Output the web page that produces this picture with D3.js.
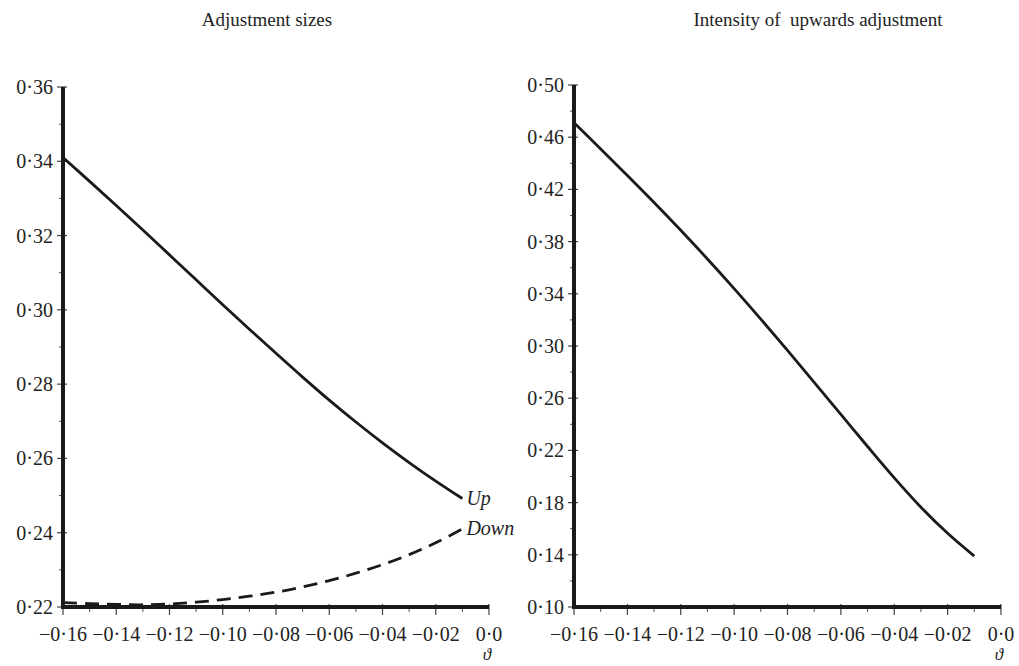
<!DOCTYPE html>
<html>
<head>
<meta charset="utf-8">
<script src="https://cdn.jsdelivr.net/npm/d3@7"></script>
<style>
  html, body { margin: 0; padding: 0; background: #fff; }
  svg { display: block; }
  text { font-family: "Liberation Serif", "DejaVu Serif", serif; fill: #222; }
</style>
</head>
<body>
<svg id="chart" width="1019" height="666"></svg>
<script>
// Theta grid shared by every series
const theta = [-0.16, -0.15, -0.14, -0.13, -0.12, -0.11, -0.10, -0.09,
               -0.08, -0.07, -0.06, -0.05, -0.04, -0.03, -0.02, -0.01];

// Adjustment sizes
const upSize   = [0.3410, 0.3346, 0.3281, 0.3215, 0.3148, 0.3081, 0.3014, 0.2948,
                  0.2883, 0.2819, 0.2757, 0.2698, 0.2642, 0.2589, 0.2539, 0.2492];
const downSize = [0.2212, 0.2209, 0.2207, 0.2206, 0.2208, 0.2213, 0.2220, 0.2229,
                  0.2240, 0.2254, 0.2271, 0.2291, 0.2314, 0.2341, 0.2373, 0.2410];

// Intensity of upwards adjustment
const upIntensity = [0.4710, 0.4510, 0.4307, 0.4100, 0.3887, 0.3667, 0.3440, 0.3206,
                     0.2966, 0.2722, 0.2476, 0.2230, 0.1990, 0.1765, 0.1565, 0.1390];

// Tick values
const xTicks = [-0.16, -0.14, -0.12, -0.10, -0.08, -0.06, -0.04, -0.02, 0.0];
const xMinor = [-0.15, -0.13, -0.11, -0.09, -0.07, -0.05, -0.03, -0.01];
const leftYTicks  = [0.22, 0.24, 0.26, 0.28, 0.30, 0.32, 0.34, 0.36];
const leftYMinor  = [0.23, 0.25, 0.27, 0.29, 0.31, 0.33, 0.35];
const rightYTicks = [0.10, 0.14, 0.18, 0.22, 0.26, 0.30, 0.34, 0.38, 0.42, 0.46, 0.50];
const rightYMinor = [0.12, 0.16, 0.20, 0.24, 0.28, 0.32, 0.36, 0.40, 0.44, 0.48];

const titles = ["Adjustment sizes", "Intensity of\u00a0 upwards adjustment"];

const svg = d3.select("#chart");

// Numbers written with a raised dot as decimal separator
function fmtX(v) {
  if (v === 0) return "0\u00b70";
  const s = Math.abs(v).toFixed(2).replace(".", "\u00b7");
  return (v < 0 ? "\u2212" : "") + s;
}
function fmtY(v) { return v.toFixed(2).replace(".", "\u00b7"); }

function panel(opts) {
  const g = svg.append("g");
  const x = d3.scaleLinear().domain([-0.16, 0.0]).range([opts.x0, opts.x1]);
  const y = d3.scaleLinear().domain(opts.yDomain).range([opts.yBottom, opts.yTop]);

  // title
  g.append("text")
    .attr("x", opts.titleX).attr("y", 26)
    .attr("text-anchor", "middle")
    .style("font-size", "19px")
    .text(opts.title);

  // minor ticks
  g.selectAll(".xminor").data(xMinor).enter().append("line")
    .attr("x1", d => x(d)).attr("x2", d => x(d))
    .attr("y1", opts.yBottom - 2).attr("y2", opts.yBottom + 5)
    .attr("stroke", "#555").attr("stroke-width", 1);
  g.selectAll(".yminor").data(opts.yMinor).enter().append("line")
    .attr("y1", d => y(d)).attr("y2", d => y(d))
    .attr("x1", opts.x0 - 4).attr("x2", opts.x0 + 2)
    .attr("stroke", "#555").attr("stroke-width", 1);

  // major ticks
  g.selectAll(".xmajor").data(xTicks).enter().append("line")
    .attr("x1", d => x(d)).attr("x2", d => x(d))
    .attr("y1", opts.yBottom - 3).attr("y2", opts.yBottom + 8)
    .attr("stroke", "#444").attr("stroke-width", 1.2);
  g.selectAll(".ymajor").data(opts.yTicks).enter().append("line")
    .attr("y1", d => y(d)).attr("y2", d => y(d))
    .attr("x1", opts.x0 - 6).attr("x2", opts.x0 + 4)
    .attr("stroke", "#444").attr("stroke-width", 1.2);

  // axis lines
  g.append("line")
    .attr("x1", opts.x0).attr("x2", opts.x0)
    .attr("y1", y(opts.yDomain[1])).attr("y2", opts.yBottom + 2)
    .attr("stroke", "#1a1a1a").attr("stroke-width", 4);
  g.append("line")
    .attr("x1", opts.x0 - 2).attr("x2", x(0))
    .attr("y1", opts.yBottom).attr("y2", opts.yBottom)
    .attr("stroke", "#1a1a1a").attr("stroke-width", 4);

  // tick labels
  g.selectAll(".xlab").data(xTicks).enter().append("text")
    .attr("x", d => x(d)).attr("y", opts.yBottom + 34)
    .attr("text-anchor", "middle")
    .style("font-size", "20px")
    .text(fmtX);
  g.selectAll(".ylab").data(opts.yTicks).enter().append("text")
    .attr("x", opts.x0 - 10).attr("y", d => y(d) + 7)
    .attr("text-anchor", "end")
    .style("font-size", "20px")
    .text(fmtY);

  // axis variable
  g.append("text")
    .attr("x", x(0) - 2).attr("y", 660)
    .attr("text-anchor", "middle")
    .style("font-size", "17px").style("font-style", "italic")
    .text("\u03d1");

  // series
  const line = d3.line().x(d => x(d[0])).y(d => y(d[1])).curve(d3.curveCatmullRom);
  opts.series.forEach(s => {
    const pts = theta.map((t, i) => [t, s.values[i]]);
    g.append("path")
      .attr("d", line(pts))
      .attr("fill", "none")
      .attr("stroke", "#1a1a1a")
      .attr("stroke-width", 2.8)
      .attr("stroke-dasharray", s.dash || null)
      .attr("stroke-linecap", "butt");
    if (s.label) {
      const last = pts[pts.length - 1];
      g.append("text")
        .attr("x", x(last[0]) + 4).attr("y", y(last[1]) + 6)
        .style("font-size", "20px").style("font-style", "italic")
        .text(s.label);
    }
  });
}

panel({
  title: titles[0], titleX: 267,
  x0: 63, x1: 489, yTop: 87, yBottom: 607,
  yDomain: [0.22, 0.36], yTicks: leftYTicks, yMinor: leftYMinor,
  series: [
    { values: upSize, label: "Up" },
    { values: downSize, label: "Down", dash: "14,8" }
  ]
});

panel({
  title: titles[1], titleX: 818,
  x0: 574, x1: 1001, yTop: 85, yBottom: 607,
  yDomain: [0.10, 0.50], yTicks: rightYTicks, yMinor: rightYMinor,
  series: [
    { values: upIntensity }
  ]
});
</script>
</body>
</html>
